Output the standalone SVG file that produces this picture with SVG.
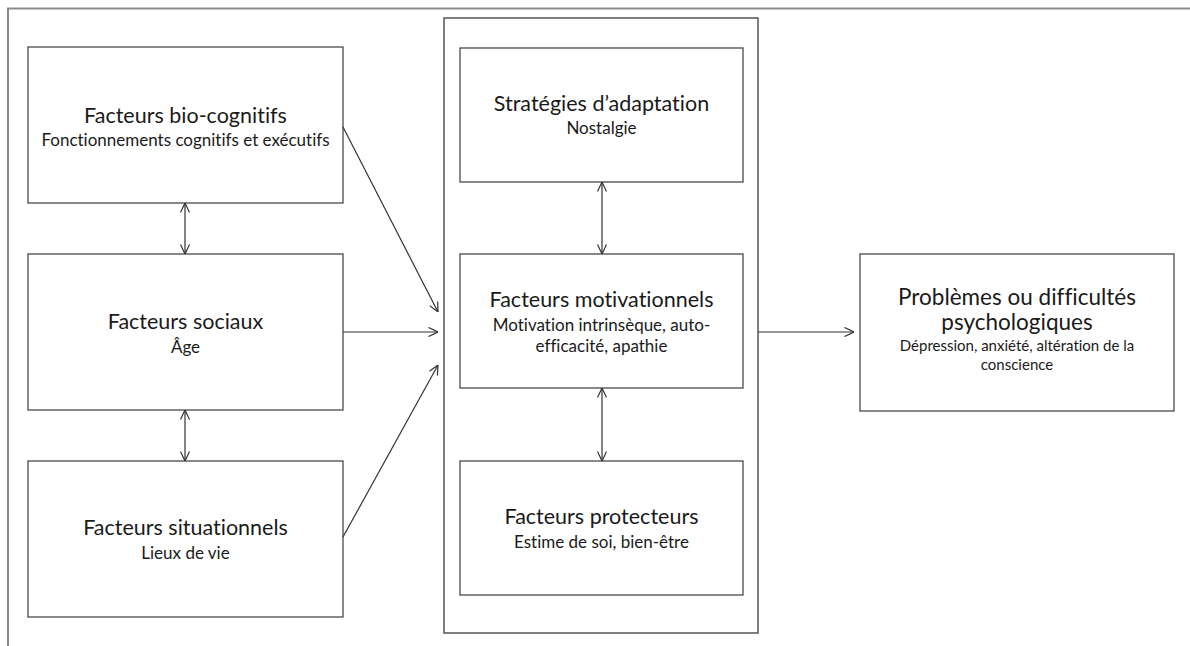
<svg xmlns="http://www.w3.org/2000/svg" width="1190" height="646" viewBox="0 0 1190 646">
  <style>
    .frame { stroke: #8a8a8a; stroke-width: 2; fill: none; }
    .box { fill: #ffffff; stroke: #4a4a4a; stroke-width: 1.3; }
    .container { fill: none; stroke: #555555; stroke-width: 1.5; }
    .conn { stroke: #333333; stroke-width: 1.2; fill: none; }
    text { font-family: Lato, "Liberation Sans", sans-serif; fill: #1a1a1a; text-anchor: middle; font-variant-ligatures: none; }
    .t { font-size: 21.5px; }
    .s { font-size: 17px; }
    .tb { font-size: 22.5px; }
    .sb { font-size: 15px; }
  </style>
  <defs>
    <marker id="arr" viewBox="0 0 10 10" refX="10" refY="5" markerWidth="10" markerHeight="10" markerUnits="userSpaceOnUse" orient="auto-start-reverse">
      <path d="M0.5,0.5 L10,5 L0.5,9.5" fill="none" stroke="#333333" stroke-width="1.2"/>
    </marker>
  </defs>
  <rect width="1190" height="646" fill="#ffffff"/>
  <g id="frame">
    <path class="frame" d="M8,646 L8,8.5 L1190,8.5"/>
  </g>
  <g id="container">
    <rect class="container" x="444" y="18" width="314" height="615"/>
  </g>
  <g id="bio-cognitifs">
    <rect class="box" x="28" y="47" width="315" height="156"/>
    <text class="t" x="185.5" y="123">Facteurs bio-cognitifs</text>
    <text class="s" x="185.5" y="146">Fonctionnements cognitifs et exécutifs</text>
  </g>
  <g id="sociaux">
    <rect class="box" x="28" y="254" width="315" height="156"/>
    <text class="t" x="185.5" y="329">Facteurs sociaux</text>
    <text class="s" x="185.5" y="353">Âge</text>
  </g>
  <g id="situationnels">
    <rect class="box" x="28" y="461" width="315" height="156"/>
    <text class="t" x="185.5" y="535">Facteurs situationnels</text>
    <text class="s" x="185.5" y="559">Lieux de vie</text>
  </g>
  <g id="strategies">
    <rect class="box" x="460" y="48" width="283" height="134"/>
    <text class="t" x="601.5" y="111">Stratégies d’adaptation</text>
    <text class="s" x="601.5" y="134">Nostalgie</text>
  </g>
  <g id="motivationnels">
    <rect class="box" x="460" y="254" width="283" height="134"/>
    <text class="t" x="601.5" y="307">Facteurs motivationnels</text>
    <text class="s" x="601.5" y="331">Motivation intrinsèque, auto-</text>
    <text class="s" x="601.5" y="352">efficacité, apathie</text>
  </g>
  <g id="protecteurs">
    <rect class="box" x="460" y="461" width="283" height="134"/>
    <text class="t" x="601.5" y="524">Facteurs protecteurs</text>
    <text class="s" x="601.5" y="548">Estime de soi, bien-être</text>
  </g>
  <g id="problemes">
    <rect class="box" x="860" y="254" width="314" height="157"/>
    <text class="tb" x="1017" y="305">Problèmes ou difficultés</text>
    <text class="tb" x="1017" y="330">psychologiques</text>
    <text class="sb" x="1017" y="351">Dépression, anxiété, altération de la</text>
    <text class="sb" x="1017" y="370">conscience</text>
  </g>
  <g id="connectors">
    <line class="conn" x1="343" y1="127" x2="438" y2="312" marker-end="url(#arr)"/>
    <line class="conn" x1="343" y1="332" x2="438" y2="332" marker-end="url(#arr)"/>
    <line class="conn" x1="343" y1="537" x2="438" y2="365" marker-end="url(#arr)"/>
    <line class="conn" x1="758" y1="332" x2="854" y2="332" marker-end="url(#arr)"/>
    <line class="conn" x1="185" y1="203" x2="185" y2="254" marker-start="url(#arr)" marker-end="url(#arr)"/>
    <line class="conn" x1="185" y1="410" x2="185" y2="461" marker-start="url(#arr)" marker-end="url(#arr)"/>
    <line class="conn" x1="602" y1="182" x2="602" y2="254" marker-start="url(#arr)" marker-end="url(#arr)"/>
    <line class="conn" x1="602" y1="388" x2="602" y2="461" marker-start="url(#arr)" marker-end="url(#arr)"/>
  </g>
</svg>
